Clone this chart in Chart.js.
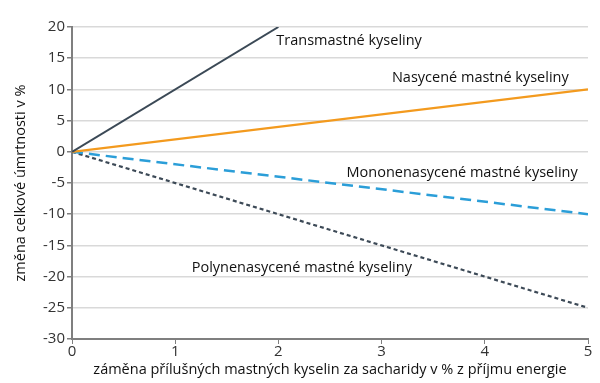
<!DOCTYPE html>
<html><head><meta charset="utf-8">
<script src="https://cdn.jsdelivr.net/npm/chart.js@4/dist/chart.umd.min.js"></script>
<style>html,body{margin:0;padding:0;background:#fff}#wrap{width:600px;height:383px}</style>
</head><body><div id="wrap"><canvas id="c" width="600" height="383"></canvas></div>
<script>
const xValues = [0, 5];
const seriesNames = ['Transmastné kyseliny','Nasycené mastné kyseliny','Mononenasycené mastné kyseliny','Polynenasycené mastné kyseliny'];
const transX = [0, 2];
const transY = [0, 20];
const saturatedY = [0, 10];
const monoY = [0, -10];
const polyY = [0, -25];
const xTicks = [0,1,2,3,4,5];
const yTicks = [20,15,10,5,0,-5,-10,-15,-20,-25,-30];
const xTitle = 'záměna přílušných mastných kyselin za sacharidy v % z příjmu energie';
const yTitle = 'změna celkové úmrtnosti v %';
// label anchor (data coords: left edge x, middle y)
const labelX = [1.98, 3.1, 2.66, 1.16];
const labelY = [17.8, 11.9, -3.4, -18.6];

const FONT = '"Open Sans", Lato, sans-serif';
const pts = (xs, ys) => xs.map((x,i)=>({x, y: ys[i]}));

const labelPlugin = {
  id:'lbl',
  afterDatasetsDraw(chart){
    const {ctx, scales:{x,y}} = chart;
    ctx.save();
    ctx.font = '14.5px ' + FONT;
    ctx.fillStyle = '#111';
    ctx.textBaseline = 'middle';
    ctx.textAlign = 'left';
    seriesNames.forEach((n,i)=>{
      ctx.fillText(n, x.getPixelForValue(labelX[i]), y.getPixelForValue(labelY[i]));
    });
    ctx.restore();
  }
};

new Chart(document.getElementById('c'), {
  type:'line',
  data:{datasets:[
    {label:seriesNames[0], data:pts(transX, transY), borderColor:'#3b4956', borderWidth:2},
    {label:seriesNames[1], data:pts(xValues, saturatedY), borderColor:'#f39a1e', borderWidth:2.2},
    {label:seriesNames[2], data:pts(xValues, monoY), borderColor:'#2b9ed8', borderWidth:2.5, borderDash:[11,6]},
    {label:seriesNames[3], data:pts(xValues, polyY), borderColor:'#3d4a57', borderWidth:2.2, borderDash:[4,3]}
  ]},
  options:{
    responsive:false, animation:false,
    layout:{padding:{left:12,right:12,top:27,bottom:4}},
    elements:{point:{radius:0}, line:{tension:0}},
    plugins:{legend:{display:false}, tooltip:{enabled:false}},
    scales:{
      x:{type:'linear', min:0, max:5,
        afterBuildTicks(s){ s.ticks = xTicks.map(v=>({value:v})); },
        afterFit(s){ s.height = 40; },
        grid:{drawOnChartArea:false, drawTicks:true, tickLength:5, tickColor:'#7f7f7f'},
        border:{color:'#7f7f7f', width:2},
        ticks:{color:'#333', font:{family:FONT, size:15}, padding:-1, maxRotation:0},
        title:{display:true, text:xTitle, color:'#111', font:{family:FONT, size:14.5}, padding:{top:-6,bottom:0}}
      },
      y:{type:'linear', min:-30, max:20,
        afterBuildTicks(s){ s.ticks = yTicks.map(v=>({value:v})); },
        afterFit(s){ s.width = 60; },
        grid:{color:'#d9d9d9', lineWidth:1.5, drawTicks:true, tickLength:5, tickColor:'#7f7f7f'},
        border:{color:'#7f7f7f', width:2},
        ticks:{color:'#333', font:{family:FONT, size:15}, padding:2},
        title:{display:true, text:yTitle, color:'#111', font:{family:FONT, size:14.5}, padding:{top:0,bottom:0}}
      }
    }
  },
  plugins:[labelPlugin]
});
</script></body></html>
